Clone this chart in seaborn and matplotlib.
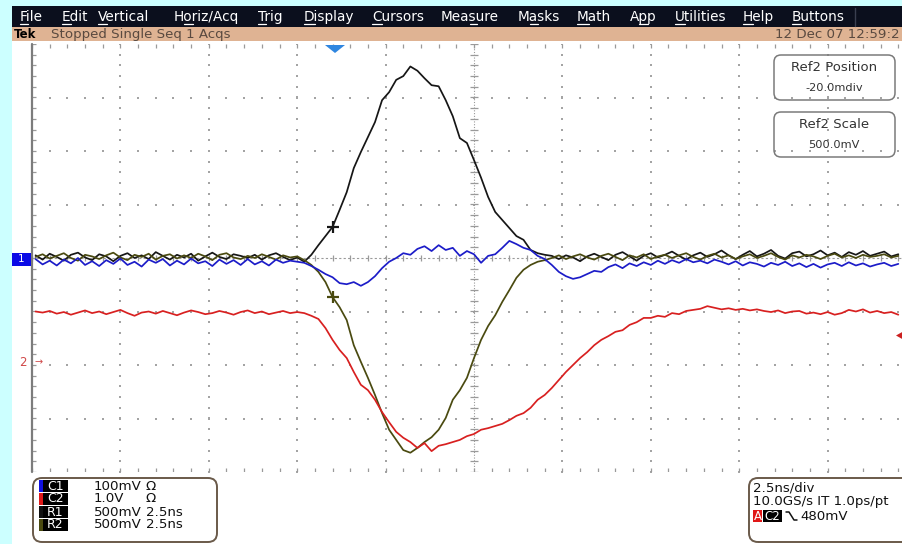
import numpy as np
import pandas as pd
import matplotlib
matplotlib.use("Agg")
import matplotlib.pyplot as plt
from matplotlib.patches import Rectangle, FancyBboxPatch, Polygon
from matplotlib.lines import Line2D
from matplotlib.transforms import IdentityTransform
import seaborn as sns

sns.set_style("white")
plt.rcParams["font.family"] = ["DejaVu Sans"]

# ---- acquisition record: 0.2 ns per sample, 2.5 ns/div ----
t_start = -12.4
t_step = 0.2
n_pts = 123
time_ns = np.round(t_start + t_step * np.arange(n_pts), 2)

# trace levels in screen divisions (0 = centre line)
r1_div = [
    0.05, -0.03, 0.08, 0.02, -0.05, 0.06, 0.10, 0.01, -0.04, 0.07,
    0.03, -0.06, 0.04, 0.09, 0.00, 0.05, -0.02, 0.11, 0.04, -0.03,
    0.06, 0.01, 0.08, -0.05, 0.03, 0.10, 0.02, -0.02, 0.07, 0.04,
    0.00, 0.06, -0.03, 0.05, 0.09, 0.02, -0.04, 0.01, -0.07, 0.06,
    0.24, 0.41, 0.58, 0.90, 1.23, 1.68, 1.98, 2.26, 2.54, 2.95,
    3.10, 3.33, 3.40, 3.58, 3.50, 3.36, 3.23, 3.21, 2.95, 2.65,
    2.24, 2.15, 1.83, 1.50, 1.14, 0.86, 0.71, 0.56, 0.41, 0.34,
    0.15, 0.09, 0.06, 0.04, -0.02, 0.05, 0.01, -0.06, 0.03, 0.08,
    0.02, -0.04, 0.06, 0.11, 0.03, -0.05, 0.04, 0.09, 0.01, 0.06,
    0.12, 0.04, -0.03, 0.05, 0.10, 0.02, 0.07, 0.14, 0.05, -0.02,
    0.06, 0.13, 0.03, 0.08, 0.15, 0.04, -0.01, 0.09, 0.12, 0.03,
    0.07, 0.14, 0.05, 0.10, 0.02, 0.11, 0.06, 0.13, 0.04, 0.08,
    0.12, 0.03, 0.07]

r2_div = [
    0.02, 0.07, -0.01, 0.04, 0.09, 0.00, -0.05, 0.06, 0.03, -0.02,
    0.05, 0.10, 0.01, -0.04, 0.06, 0.02, 0.08, -0.03, 0.04, 0.07,
    -0.01, 0.05, 0.00, 0.08, 0.03, -0.04, 0.06, 0.09, 0.01, -0.02,
    0.04, 0.00, 0.07, 0.02, -0.03, 0.05, 0.01, 0.03, -0.04, -0.13,
    -0.26, -0.45, -0.73, -0.92, -1.16, -1.63, -1.94, -2.24, -2.56, -2.90,
    -3.21, -3.40, -3.59, -3.64, -3.55, -3.44, -3.35, -3.21, -2.99, -2.65,
    -2.47, -2.24, -1.87, -1.53, -1.27, -1.07, -0.82, -0.60, -0.37, -0.22,
    -0.13, -0.07, -0.04, 0.00, 0.05, -0.02, 0.03, 0.07, 0.01, -0.03,
    0.04, 0.08, 0.02, -0.04, 0.05, 0.01, 0.07, -0.02, 0.03, 0.06,
    0.00, 0.05, 0.09, 0.02, -0.03, 0.04, 0.08, 0.01, 0.05, -0.02,
    0.03, 0.07, 0.00, 0.04, 0.09, 0.02, -0.03, 0.05, 0.01, 0.06,
    0.03, -0.02, 0.04, 0.08, 0.01, 0.05, 0.00, 0.06, 0.02, 0.04,
    0.07, 0.01, 0.04]

c2_div = [
    -1.00, -1.02, -0.99, -1.04, -1.01, -1.06, -1.02, -0.98, -1.03, -1.00,
    -1.05, -1.01, -0.97, -1.03, -1.08, -1.02, -1.00, -1.04, -0.99, -1.03,
    -1.07, -1.02, -0.98, -1.01, -1.05, -1.03, -0.99, -1.02, -1.06, -1.01,
    -0.98, -1.03, -1.00, -1.05, -1.02, -0.99, -1.03, -1.01, -1.03, -1.08,
    -1.14, -1.31, -1.53, -1.72, -1.87, -2.13, -2.37, -2.47, -2.65, -2.88,
    -3.07, -3.25, -3.36, -3.44, -3.55, -3.46, -3.61, -3.51, -3.48, -3.44,
    -3.40, -3.33, -3.29, -3.21, -3.18, -3.14, -3.10, -3.03, -2.95, -2.90,
    -2.80, -2.65, -2.56, -2.43, -2.28, -2.13, -2.00, -1.87, -1.76, -1.63,
    -1.53, -1.46, -1.38, -1.35, -1.25, -1.20, -1.12, -1.12, -1.08, -1.10,
    -1.03, -1.05, -0.99, -0.97, -0.95, -0.90, -0.93, -0.96, -0.94, -0.97,
    -0.95, -0.98, -0.96, -0.99, -1.01, -0.98, -1.03, -1.00, -0.99, -1.04,
    -1.02, -1.05, -1.01, -1.06, -1.03, -0.97, -1.00, -0.96, -1.02, -0.99,
    -1.03, -1.01, -1.06]

c1_div = [
    -0.02, -0.12, -0.05, -0.14, -0.03, -0.10, 0.00, -0.13, -0.06, -0.15,
    -0.04, -0.11, -0.01, -0.13, -0.07, -0.16, -0.03, -0.09, -0.02, -0.14,
    -0.05, -0.12, -0.01, -0.10, -0.06, -0.15, -0.03, -0.11, -0.04, -0.13,
    -0.02, -0.12, -0.06, -0.14, -0.03, -0.09, -0.05, -0.07, -0.09, -0.15,
    -0.22, -0.30, -0.36, -0.47, -0.49, -0.45, -0.52, -0.45, -0.34, -0.19,
    -0.07, 0.00, 0.09, 0.06, 0.17, 0.22, 0.13, 0.24, 0.15, 0.19,
    0.04, 0.13, 0.07, -0.09, 0.04, 0.07, 0.19, 0.32, 0.26, 0.19,
    0.15, 0.04, -0.02, -0.13, -0.26, -0.34, -0.39, -0.36, -0.30, -0.24,
    -0.26, -0.17, -0.12, -0.19, -0.10, -0.15, -0.08, -0.13, -0.05, -0.11,
    -0.04, -0.09, -0.02, -0.08, -0.05, -0.10, -0.03, -0.07, -0.12, -0.06,
    -0.14, -0.08, -0.11, -0.16, -0.09, -0.13, -0.07, -0.15, -0.10, -0.17,
    -0.11, -0.18, -0.12, -0.09, -0.15, -0.08, -0.14, -0.10, -0.16, -0.12,
    -0.09, -0.15, -0.11]

trace_names = ["R1", "R2", "C2", "C1"]
trace_colors = {"R1": "#161616", "R2": "#4a4a10", "C2": "#d82020", "C1": "#1c1cc8"}
cursor_time = -4.0   # cursor crosses on the reference traces

# readouts
menu_items = ["File", "Edit", "Vertical", "Horiz/Acq", "Trig", "Display", "Cursors",
              "Measure", "Masks", "Math", "App", "Utilities", "Help", "Buttons"]
menu_hotkey = [0, 0, 0, 1, 0, 0, 0, 3, 1, 0, 1, 0, 0, 0]
status_text = "Stopped Single Seq 1 Acqs"
date_text = "12 Dec 07 12:59:2"
ch_labels = ["C1", "C2", "R1", "R2"]
ch_chip = ["#1010e0", "#e01818", "#101010", "#4a4a10"]
ch_scale = ["100mV", "1.0V", "500mV", "500mV"]
ch_extra = ["\u03a9", "\u03a9", "2.5ns", "2.5ns"]
timebase_lines = ["2.5ns/div", "10.0GS/s IT 1.0ps/pt"]
trig_level = "480mV"
ref_boxes = [("Ref2 Position", "-20.0mdiv"), ("Ref2 Scale", "500.0mV")]

# ---- figure, pixel helpers ----
W, H = 902, 544
fig = plt.figure(figsize=(W / 100, H / 100), dpi=100, facecolor="white")
INCH = fig.dpi_scale_trans


def P(x, y):
    return (x / 100.0, (H - y) / 100.0)


def rect(x0, y0, x1, y1, **kw):
    r = Rectangle(P(x0, y1), (x1 - x0) / 100.0, (y1 - y0) / 100.0,
                  transform=INCH, **kw)
    fig.add_artist(r)
    return r


def txt(x, y, s, **kw):
    kw.setdefault("va", "center")
    kw.setdefault("ha", "left")
    return fig.text(*P(x, y), s, transform=INCH, **kw)


# frame of the screen
rect(0, 0, W, 6, color="#ccffff", lw=0)
rect(0, 0, 12, H, color="#ccffff", lw=0)
rect(12, 6, W, 27, color="#0b0f1d", lw=0)
rect(12, 27, W, 41, color="#dfb393", lw=0)
fig.add_artist(Line2D([855 / 100] * 2, [(H - 8) / 100, (H - 26) / 100],
                      transform=INCH, color="#3a3f50", lw=1))

menu_texts = []
menu_x = [20, 62, 98, 174, 258, 304, 372, 441, 518, 577, 630, 675, 743, 792]
for item, x in zip(menu_items, menu_x):
    menu_texts.append(txt(x, 17, item, color="white", fontsize=9.8))

txt(14, 34, "Tek", color="black", fontsize=8.5, fontweight="bold")
txt(51, 34, status_text, color="#5a4a40", fontsize=9.6)
txt(900, 34, date_text, color="#5a4a40", fontsize=9.6, ha="right")

# ---- graticule axes: 10 x 8 divisions (right edge runs off screen) ----
ax = fig.add_axes([32 / W, 1 - 472 / H, (W - 32) / W, 428 / H])
x_left = -12.5
x_right = x_left + (W - 32) / 88.4 * 2.5
ax.set_xlim(x_left, x_right)
ax.set_ylim(-4, 4)
ax.axis("off")

gc = "#a4a4a4"
x_minor = np.arange(-12.5, x_right, 0.5)
y_minor = np.arange(-4, 4.001, 0.2)
for yv in [-3, -2, -1, 1, 2, 3]:
    ax.scatter(x_minor, np.full_like(x_minor, yv), s=2.2, marker="s",
               color=gc, linewidths=0, zorder=1)
for xv in [-10, -7.5, -5, -2.5, 2.5, 5, 7.5, 10]:
    ax.scatter(np.full_like(y_minor, xv), y_minor, s=2.2, marker="s",
               color=gc, linewidths=0, zorder=1)
# centre cross with minor ticks
ax.axhline(0, color="#9a9a9a", lw=0.8, ls=(0, (2, 2)), zorder=1)
ax.axvline(0, color="#9a9a9a", lw=0.8, ls=(0, (1, 1.5)), zorder=1)
ax.vlines(x_minor, -0.055, 0.055, color="#9a9a9a", lw=0.9, zorder=1)
ax.hlines(y_minor, -0.1, 0.1, color="#9a9a9a", lw=0.9, zorder=1)
# edge ticks
ax.vlines(x_minor, 4 - 0.07, 4, color="#9a9a9a", lw=0.9, zorder=1)
ax.vlines(x_minor, -4, -4 + 0.07, color="#9a9a9a", lw=0.9, zorder=1)
ax.hlines(y_minor, x_left, x_left + 0.12, color="#9a9a9a", lw=0.9, zorder=1)
ax.axvline(x_left, color="#7c7c7c", lw=1.6, zorder=1, clip_on=False)

# ---- waveforms ----
df = pd.DataFrame({
    "time_ns": np.tile(time_ns, 4),
    "level": np.concatenate([r1_div, r2_div, c2_div, c1_div]),
    "trace": np.repeat(trace_names, n_pts),
})
sns.lineplot(data=df, x="time_ns", y="level", hue="trace", hue_order=trace_names,
             palette=trace_colors, estimator=None, sort=False, lw=1.25,
             legend=False, ax=ax, zorder=3)

ci = int(np.argmin(np.abs(time_ns - cursor_time)))
ax.plot(time_ns[ci], r1_div[ci], marker="+", ms=9, mew=1.6,
        color=trace_colors["R1"], zorder=4)
ax.plot(time_ns[ci], r2_div[ci], marker="+", ms=9, mew=1.6,
        color=trace_colors["R2"], zorder=4)

# ---- screen markers ----
rect(12, 253, 31, 266, color="#0a0ae6", lw=0)
txt(21.5, 259.5, "1", color="white", fontsize=7.5, ha="center")
txt(23, 363, "2", color="#d04848", fontsize=8.5, ha="center")
txt(39, 362, "\u2192", color="#d04848", fontsize=7, ha="center")
fig.add_artist(Polygon([P(325, 45), P(345, 45), P(335, 53)], closed=True,
                       transform=INCH, color="#2f86e0", lw=0))
fig.add_artist(Polygon([P(896, 335.5), P(904, 331), P(904, 340)], closed=True,
                       transform=INCH, color="#cc2020", lw=0))

# ---- Ref2 readout boxes ----
for k, (head, val) in enumerate(ref_boxes):
    y0 = 55 + k * 57
    fig.add_artist(FancyBboxPatch(P(774, y0 + 45), 1.21, 0.45,
                                  boxstyle="round,pad=0,rounding_size=0.07",
                                  transform=INCH, fc="none", ec="#7a7a7a", lw=1.1))
    txt(834, y0 + 12, head, color="#333333", fontsize=9.5, ha="center")
    txt(834, y0 + 33, val, color="#333333", fontsize=8.2, ha="center")

# ---- channel readout (bottom left) ----
fig.add_artist(FancyBboxPatch(P(33, 542), 1.84, 0.64,
                              boxstyle="round,pad=0,rounding_size=0.09",
                              transform=INCH, fc="none", ec="#6a5a4a", lw=1.4))
row_y = [486, 499, 512, 525]
for lab, chip, sc, ex, y in zip(ch_labels, ch_chip, ch_scale, ch_extra, row_y):
    rect(39, y - 6, 43, y + 6, color=chip, lw=0)
    rect(43, y - 6, 68, y + 6, color="#000000", lw=0)
    txt(55.5, y, lab, color="white", fontsize=9, ha="center")
    txt(94, y, sc, color="#111111", fontsize=9.6)
    txt(146, y, ex, color="#111111", fontsize=9.6)

# ---- timebase / trigger readout (bottom right) ----
fig.add_artist(FancyBboxPatch(P(749, 542), 2.0, 0.64,
                              boxstyle="round,pad=0,rounding_size=0.09",
                              transform=INCH, fc="none", ec="#6a5a4a", lw=1.4))
txt(753, 488, timebase_lines[0], color="#111111", fontsize=9.6)
txt(753, 502, timebase_lines[1], color="#111111", fontsize=9.6)
rect(753, 510, 762, 522, color="#e01818", lw=0)
txt(757.5, 516, "A", color="white", fontsize=8.5, ha="center")
rect(763, 510, 782, 522, color="#000000", lw=0)
txt(772.5, 516, "C2", color="white", fontsize=8.5, ha="center")
fig.add_artist(Line2D([786 / 100, 789 / 100, 794 / 100, 797 / 100],
                      [(H - 512) / 100, (H - 512) / 100, (H - 520) / 100, (H - 520) / 100],
                      transform=INCH, color="#111111", lw=1.1))
txt(800, 516, trig_level, color="#111111", fontsize=9.6)

# ---- menu accelerator underlines ----
fig.canvas.draw()
rend = fig.canvas.get_renderer()
for t, k in zip(menu_texts, menu_hotkey):
    s = t.get_text()
    fp = t.get_fontproperties()
    bb = t.get_window_extent(rend)
    w_pre = rend.get_text_width_height_descent(s[:k], fp, ismath=False)[0] if k else 0
    w_ch = rend.get_text_width_height_descent(s[k], fp, ismath=False)[0]
    yl = bb.y0 + 0.5
    fig.add_artist(Line2D([bb.x0 + w_pre, bb.x0 + w_pre + w_ch], [yl, yl],
                          transform=IdentityTransform(), color="white", lw=0.9))

fig.savefig("out.png", dpi=100, facecolor="white")
